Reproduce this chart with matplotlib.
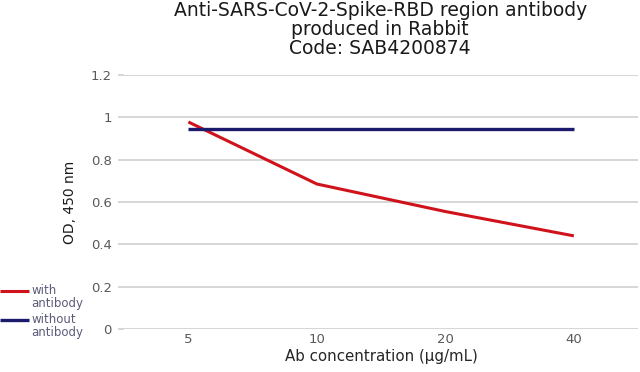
import matplotlib.pyplot as plt

concentrations = ["5", "10", "20", "40"]
with_antibody = [0.978, 0.685, 0.555, 0.44]
without_antibody = [0.945, 0.945, 0.945, 0.945]
y_ticks = [0, 0.2, 0.4, 0.6, 0.8, 1, 1.2]

fig = plt.figure(figsize=(6.4, 3.72), dpi=100)
ax = fig.add_axes([0.194, 0.1156, 0.803, 0.6828])

x = range(len(concentrations))
ax.plot(x, with_antibody, color="#d0121b", lw=2.2, label="with\nantibody", solid_capstyle="butt")
ax.plot(x, without_antibody, color="#1c1a6c", lw=2.4, label="without\nantibody", solid_capstyle="butt")

ax.set_xlim(-0.5, 3.5)
ax.set_ylim(0, 1.2)
ax.set_xticks(list(x))
ax.set_xticklabels(concentrations)
ax.set_yticks(y_ticks)
ax.set_yticklabels([f"{v:g}" for v in y_ticks])
ax.grid(axis="y", color="#d0d0d0", lw=1.2)
ax.set_axisbelow(True)
for s in ax.spines.values():
    s.set_visible(False)
ax.tick_params(axis="y", length=4, color="#d0d0d0", width=1.2, labelsize=9.5, labelcolor="#595959", pad=5)
ax.tick_params(axis="x", length=0, labelsize=9.5, labelcolor="#595959", pad=3)

ax.set_xlabel("Ab concentration (μg/mL)", fontsize=10.8, color="#262626", labelpad=2)
ax.set_ylabel("OD, 450 nm", fontsize=10, color="#1a1a1a", labelpad=10)

fig.suptitle("Anti-SARS-CoV-2-Spike-RBD region antibody\nproduced in Rabbit\nCode: SAB4200874",
             x=0.594, y=0.996, fontsize=13.5, color="#1a1a1a", linespacing=1.0)

leg = fig.legend(loc="upper left", bbox_to_anchor=(-0.008, 0.248), frameon=False,
                 fontsize=8.5, handlelength=2.5, handletextpad=0.2, labelspacing=0.25,
                 borderaxespad=0)
for t in leg.get_texts():
    t.set_color("#5c5c7a")
    t.set_linespacing(1.0)
# put the legend lines level with the first text line
for ln in leg.get_lines():
    ln.set_ydata([y + 5 for y in ln.get_ydata()])

fig.savefig("out.png", dpi=100)
